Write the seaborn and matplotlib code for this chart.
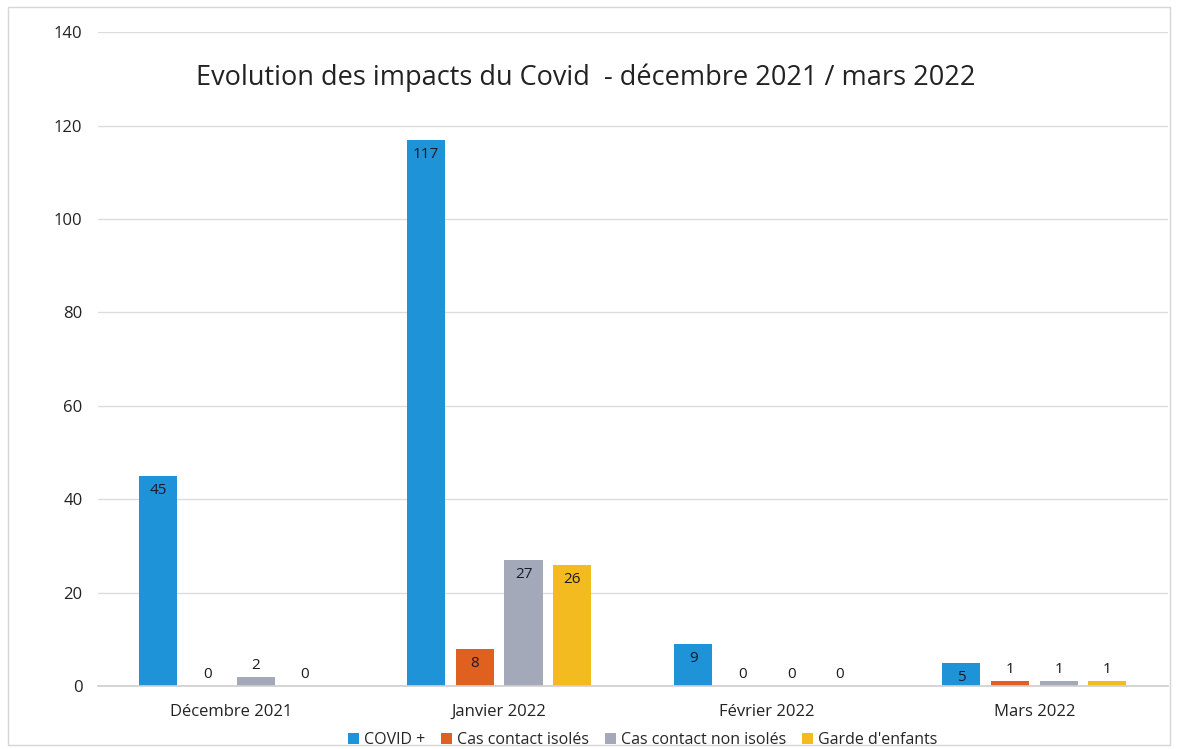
import matplotlib
matplotlib.use("Agg")
import matplotlib.pyplot as plt
import seaborn as sns
import pandas as pd
from matplotlib.patches import Rectangle

months = ["Décembre 2021", "Janvier 2022", "Février 2022", "Mars 2022"]
series = ["COVID +", "Cas contact isolés", "Cas contact non isolés", "Garde d'enfants"]
covid = [45, 117, 9, 5]
contact_isoles = [0, 8, 0, 1]
contact_non_isoles = [2, 27, 0, 1]
garde_enfants = [0, 26, 0, 1]
colors = ["#1f93d8", "#e0601f", "#a4a9b9", "#f3bb1f"]
yticks = [0, 20, 40, 60, 80, 100, 120, 140]

rows = []
for s, vals in zip(series, [covid, contact_isoles, contact_non_isoles, garde_enfants]):
    for m, v in zip(months, vals):
        rows.append({"Mois": m, "Série": s, "Valeur": v})
df = pd.DataFrame(rows)

sns.set_theme(style="white")
plt.rcParams['font.family'] = ['Open Sans', 'DejaVu Sans']

fig = plt.figure(figsize=(11.78, 7.49), dpi=100)
ax = fig.add_axes([0.083, 0.084, 0.9085, 0.873])

sns.barplot(data=df, x="Mois", y="Valeur", hue="Série", order=months, hue_order=series,
            palette=colors, width=0.73, gap=0.22, ax=ax, legend=True, errorbar=None,
            saturation=1, edgecolor="none")

ax.set_ylim(0, 140)
ax.set_yticks(yticks)
ax.set_xlim(-0.5, 3.5)
ax.yaxis.grid(True, color="#dcdcdc", linewidth=1)
ax.set_axisbelow(True)
for s in ["top", "right", "left"]:
    ax.spines[s].set_visible(False)
ax.spines["bottom"].set_color("#d0d0d0")
ax.tick_params(axis="both", length=0, labelsize=12, colors="#222222")
ax.tick_params(axis="y", pad=11)
ax.tick_params(axis="x", pad=13)
ax.set_xlabel("")
ax.set_ylabel("")

for cont in ax.containers:
    for patch in cont.patches:
        h = patch.get_height()
        xc = patch.get_x() + patch.get_width() / 2
        if h >= 5:
            ax.annotate(f"{h:.0f}", (xc, h), xytext=(0, -5), textcoords="offset points",
                        ha="center", va="top", fontsize=11, color="#1a1a2a")
        else:
            ax.annotate(f"{h:.0f}", (xc, h), xytext=(0, 3), textcoords="offset points",
                        ha="center", va="bottom", fontsize=11, color="#1a1a1a")

leg = ax.legend(loc="upper center", bbox_to_anchor=(0.509, -0.06), ncol=4, frameon=False,
                fontsize=11.5, handlelength=0.7, handleheight=0.7, handletextpad=0.3,
                columnspacing=1.0, borderaxespad=0)

fig.text(0.497, 0.896, "Evolution des impacts du Covid  - décembre 2021 / mars 2022",
         ha="center", va="center", fontsize=19.5, color="#222222")

fig.patches.append(Rectangle((0.007, 0.005), 0.986, 0.985, transform=fig.transFigure,
                             fill=False, edgecolor="#d6d6d6", linewidth=1))

fig.savefig("out.png", dpi=100)
